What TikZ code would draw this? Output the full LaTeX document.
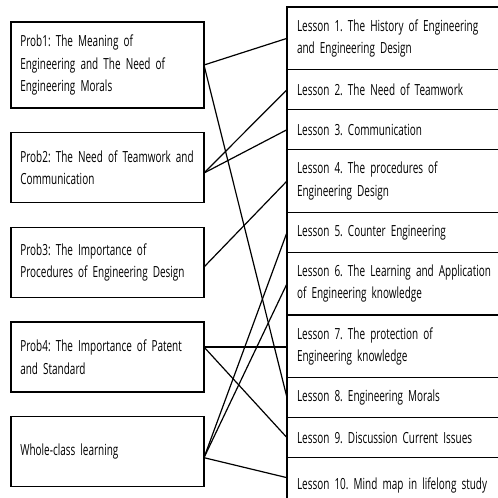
\documentclass[tikz,border=0pt]{standalone}
\usepackage{fontspec}
\setmainfont{Open Sans}[FakeStretch=0.65]
\usetikzlibrary{positioning}
\newcommand\boxfont{\fontsize{11.5}{17}\selectfont\frenchspacing\spaceskip=2.8pt\hyphenpenalty=10000\relax}
\tikzset{%
	prob/.style    = {draw, rectangle, line width=1.1pt, outer sep=0pt, inner xsep=7pt, text width=130.75pt, align=left, minimum height=52.5pt}, % Problem
	lesson/.style  = {draw, rectangle, line width=1.1pt, outer sep=0pt, inner xsep=7.5pt, text width=159.75pt, align=left, minimum height=30pt}, % one line
	lessonii/.style = {lesson, minimum height=47pt}, % two lines
	link/.style    = {line width=0.9pt},
}

\begin{document}
\begin{tikzpicture}[x=0.75pt,y=-0.75pt,font=\boxfont]
	\useasboundingbox (0,0) rectangle (498,497);
	\clip (0,0) rectangle (498,497);
	% problems
	\node [prob, anchor=north west, minimum height=64.5pt] (prob1) at (11,22) {Prob1: The Meaning of\\Engineering and The Need of\\Engineering Morals};
	\node [prob, below=18.5pt of prob1] (prob2) {Prob2: The Need of Teamwork and\\Communication};
	\node [prob, below=18.5pt of prob2] (prob3) {Prob3: The Importance of\\Procedures of Engineering Design};
	\node [prob, below=18.5pt of prob3] (prob4) {Prob4: The Importance of Patent\\and Standard};
	\node [prob, below=18.5pt of prob4] (whole) {Whole-class learning};
	% lessons
	\node [lessonii, anchor=north west] (les1) at (287,7) {Lesson 1. The History of Engineering\\and Engineering Design};
	\node [lesson, below=0pt of les1] (les2) {Lesson 2. The Need of Teamwork};
	\node [lesson, below=0pt of les2] (les3) {Lesson 3. Communication};
	\node [lessonii, below=0pt of les3] (les4) {Lesson 4. The procedures of\\Engineering Design};
	\node [lesson, below=0pt of les4] (les5) {Lesson 5. Counter Engineering};
	\node [lessonii, below=0pt of les5] (les6) {Lesson 6. The Learning and Application\\of Engineering knowledge};
	\node [lessonii, below=0pt of les6] (les7) {Lesson 7. The protection of\\Engineering knowledge};
	\node [lesson, below=0pt of les7] (les8) {Lesson 8. Engineering Morals};
	\node [lesson, below=0pt of les8] (les9) {Lesson 9. Discussion Current Issues};
	\node [lesson, below=0pt of les9, anchor=north, text height=14pt, minimum height=36pt] (les10) {Lesson 10. Mind map in lifelong study};
	% links
	\draw[link] (prob1.east) -- (les1.west);
	\draw[link] (prob1.east) -- (les8.west);
	\draw[link] ([yshift=-4pt]prob2.east) -- (les2.west);
	\draw[link] ([yshift=-4pt]prob2.east) -- (les3.west);
	\draw[link] ([yshift=-3.5pt]prob3.east) -- (les4.west);
	\draw[link] ([yshift=7.5pt]prob4.east) -- ([yshift=7.5pt]prob4.east -| les7.west);
	\draw[link] ([yshift=7.5pt]prob4.east) -- (les9.west);
	\draw[link] ([yshift=-4.5pt]whole.east) -- (les5.west);
	\draw[link] ([yshift=-4.5pt]whole.east) -- (les6.west);
	\draw[link] ([yshift=-4.5pt]whole.east) -- ([yshift=3pt]les10.west);
\end{tikzpicture}
\end{document}
